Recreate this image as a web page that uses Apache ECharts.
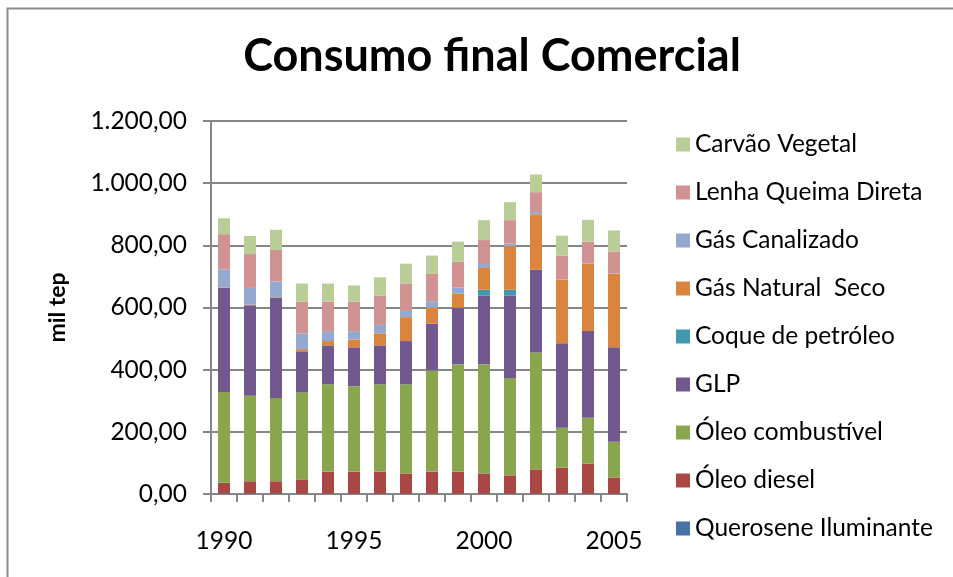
<!DOCTYPE html>
<html>
<head>
<meta charset="utf-8">
<script src="https://cdn.jsdelivr.net/npm/echarts@6/dist/echarts.min.js"></script>
<style>
  html, body { margin: 0; padding: 0; background: #ffffff; }
  #chart { width: 953px; height: 577px; }
</style>
</head>
<body>
<div id="chart"></div>
<script>
// anos
const years = ['1990','1991','1992','1993','1994','1995','1996','1997','1998','1999','2000','2001','2002','2003','2004','2005'];

// valores em mil tep
const querosene   = [2, 2, 2, 1, 1, 1, 1, 1, 1, 1, 1, 1, 1, 1, 1, 1];
const oleoDiesel  = [34, 39, 39, 46, 71, 71, 71, 65, 71, 71, 65, 59, 78, 84, 97, 52];
const oleoComb    = [292, 275, 268, 280, 281, 275, 281, 287, 326, 345, 351, 312, 376, 128, 147, 115];
const glp         = [335, 291, 322, 132, 125, 125, 125, 139, 150, 182, 221, 266, 267, 272, 279, 304];
const coque       = [0, 0, 0, 0, 0, 0, 0, 0, 0, 0, 19, 19, 0, 0, 0, 0];
const gasNatural  = [2, 2, 2, 7, 14, 25, 39, 77, 51, 45, 70, 141, 178, 205, 216, 237];
const gasCanal    = [57, 54, 51, 51, 32, 27, 27, 20, 21, 20, 13, 8, 7, 1, 1, 1];
const lenha       = [114, 109, 101, 102, 95, 95, 94, 87, 88, 83, 77, 75, 64, 76, 71, 70];
const carvao      = [51, 58, 65, 58, 58, 52, 59, 65, 59, 65, 64, 58, 57, 64, 70, 68];

const yTicks = { min: 0, max: 1200, interval: 200 };

// ordem de baixo para cima na pilha
const stackNames = ['Querosene Iluminante','Óleo diesel','Óleo combustível','GLP','Coque de petróleo','Gás Natural  Seco','Gás Canalizado','Lenha Queima Direta','Carvão Vegetal'];
const stackData = [querosene, oleoDiesel, oleoComb, glp, coque, gasNatural, gasCanal, lenha, carvao];
const colors = ['#4572A7','#AA4643','#89A54E','#71588F','#4198AF','#DB843D','#93A9CF','#D19392','#B9CD96'];

const FONT = 'Lato';

function fmtBR(v) {
  // 1200 -> 1.200,00
  let s = v.toFixed(2).split('.');
  let ip = s[0].replace(/\B(?=(\d{3})+(?!\d))/g, '.');
  return ip + ',' + s[1];
}

let chart = echarts.init(document.getElementById('chart'), null, {renderer: 'canvas'});

let series = stackNames.map((name, i) => ({
  name: name,
  type: 'bar',
  stack: 'total',
  barWidth: 12,
  itemStyle: { color: colors[i] },
  data: stackData[i]
}));

chart.setOption({
  animation: false,
  backgroundColor: '#ffffff',
  title: {
    text: 'Consumo final Comercial',
    left: 487,
    top: 29,
    textAlign: 'center',
    textStyle: { fontFamily: FONT, fontWeight: 'bold', fontSize: 45, color: '#000' }
  },
  graphic: [{
    type: 'polyline',
    shape: { points: [[7.5, 600], [7.5, 8.5], [960, 8.5]] },
    style: { fill: 'none', stroke: '#8c8c8c', lineWidth: 2 },
    silent: true
  }],
  legend: {
    orient: 'vertical',
    left: 671,
    top: 127,
    itemWidth: 14,
    itemHeight: 14,
    itemGap: 23,
    icon: 'rect',
    data: stackNames.slice().reverse(),
    textStyle: { fontFamily: FONT, fontSize: 24.5, color: '#000', lineHeight: 24 }
  },
  grid: { left: 211, right: 326, top: 121, bottom: 83 },
  xAxis: {
    type: 'category',
    data: years,
    axisLine: { lineStyle: { color: '#868686', width: 2 } },
    axisTick: { show: true, interval: 0, length: 8, lineStyle: { color: '#868686', width: 2 } },
    axisLabel: { interval: 4, margin: 35, fontFamily: FONT, fontSize: 24.5, color: '#000' }
  },
  yAxis: {
    type: 'value',
    min: yTicks.min,
    max: yTicks.max,
    interval: yTicks.interval,
    name: 'mil tep',
    nameLocation: 'middle',
    nameGap: 142,
    nameTextStyle: { fontFamily: FONT, fontWeight: 'bold', fontSize: 23, color: '#000' },
    axisLine: { show: true, lineStyle: { color: '#868686', width: 2 } },
    axisTick: { show: true, length: 8, lineStyle: { color: '#868686', width: 2 } },
    splitLine: { lineStyle: { color: '#868686', width: 2 } },
    axisLabel: { margin: 24, fontFamily: FONT, fontSize: 24.5, color: '#000', formatter: fmtBR }
  },
  series: series
});
</script>
</body>
</html>
